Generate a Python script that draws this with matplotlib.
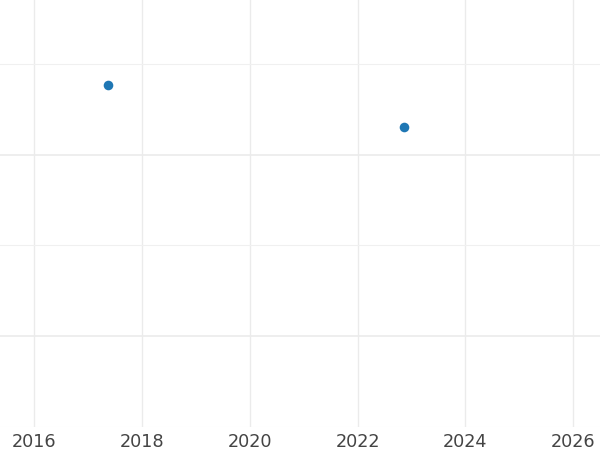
import matplotlib
matplotlib.use("Agg")
import matplotlib.pyplot as plt
import matplotlib.dates as mdates
import numpy as np
import pandas as pd

# Datos
fechas = pd.to_datetime(["2017-05-15", "2022-11-10"])
valores = [4.77, 4.30]

COR_PUNTO = "#1f77b4"
COR_GRID = "#ebebeb"

fig = plt.figure(figsize=(6, 4.5), dpi=100)
ax = fig.add_axes([0, 0.051, 1, 0.949])

ax.scatter(fechas, valores, s=48, color=COR_PUNTO, zorder=3, linewidths=0)

ax.set_xlim(pd.Timestamp("2015-05-15"), pd.Timestamp("2026-07-01"))
ax.set_ylim(1.011, 5.703)

ax.xaxis.set_major_locator(mdates.YearLocator(2))
ax.xaxis.set_major_formatter(mdates.DateFormatter("%Y"))
ax.set_yticks([2, 4])
ax.set_yticks([1, 3, 5], minor=True)

ax.grid(True, which="major", axis="x", color=COR_GRID, linewidth=1.0)
ax.grid(True, which="major", axis="y", color=COR_GRID, linewidth=1.2)
ax.grid(True, which="minor", axis="y", color="#f0f0f0", linewidth=0.8)
ax.set_axisbelow(True)

for s in ax.spines.values():
    s.set_visible(False)

ax.tick_params(axis="x", length=0, labelsize=12.7, labelcolor="#444444", pad=4)
ax.tick_params(axis="y", which="both", length=0, labelleft=False)

fig.savefig("out.png", dpi=100)
